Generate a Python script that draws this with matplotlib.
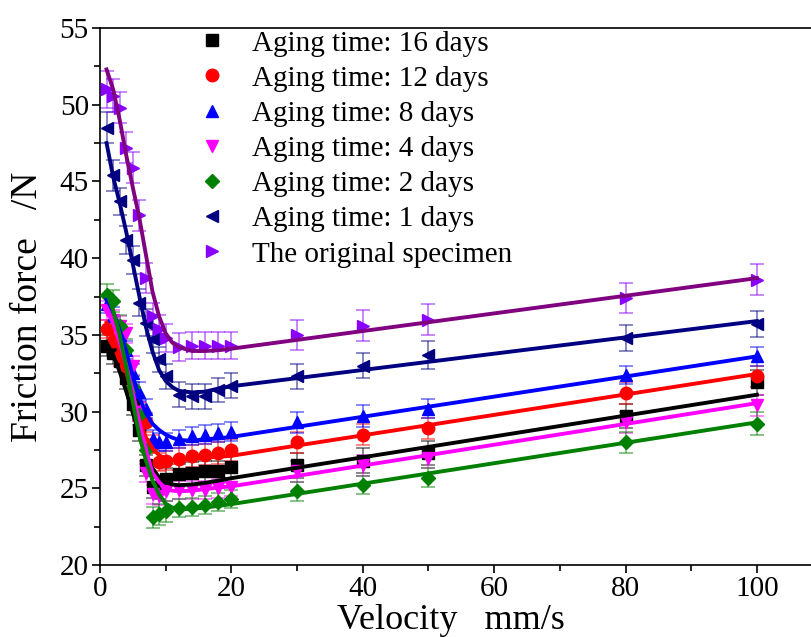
import matplotlib
matplotlib.use("Agg")
import matplotlib.pyplot as plt
from matplotlib.ticker import MultipleLocator

plt.rcParams['font.family'] = ['Liberation Serif', 'DejaVu Serif']

# measured velocities (mm/s)
velocity = [1, 2, 3, 4, 5, 6, 7, 8, 9, 10, 12, 14, 16, 18, 20, 30, 40, 50, 80, 100]

# measured friction force (N)
f16 = [34.3, 33.8, 33.3, 32.2, 30.5, 28.8, 26.5, 25.1, 25.0, 25.6, 25.9, 26.0, 26.1, 26.1, 26.4, 26.5, 26.8, 27.3, 29.7, 31.9]
f12 = [35.4, 34.6, 33.6, 33.0, 31.5, 30.0, 29.3, 27.9, 26.7, 26.8, 26.9, 27.1, 27.2, 27.3, 27.5, 28.0, 28.5, 28.9, 31.2, 32.3]
f8 = [37.0, 36.2, 35.0, 34.0, 32.5, 31.3, 30.2, 28.2, 28.0, 28.0, 28.2, 28.4, 28.5, 28.6, 28.7, 29.3, 29.7, 30.2, 32.4, 33.6]
f4 = [36.6, 36.0, 35.6, 35.1, 33.0, 30.0, 26.0, 24.6, 24.5, 24.8, 24.9, 24.9, 24.9, 25.0, 25.1, 26.1, 26.5, 27.0, 29.3, 30.4]
f2 = [37.6, 37.2, 35.6, 34.0, 31.6, 29.8, 27.5, 23.1, 23.3, 23.5, 23.7, 23.8, 23.9, 24.1, 24.3, 24.8, 25.2, 25.7, 28.0, 29.2]
f1 = [48.5, 45.4, 43.7, 41.2, 39.9, 37.1, 35.8, 34.7, 33.4, 32.3, 31.1, 31.0, 31.0, 31.4, 31.7, 32.3, 33.0, 33.7, 34.8, 35.7]
f0 = [51.0, 50.6, 49.8, 47.2, 45.9, 42.8, 38.7, 36.2, 35.4, 34.8, 34.2, 34.3, 34.3, 34.3, 34.3, 35.0, 35.6, 36.0, 37.4, 38.6]

# standard deviations (N)
e16 = [0.7, 0.7, 0.7, 0.7, 0.7, 0.7, 0.7, 0.7, 0.7, 0.7, 0.7, 0.7, 0.7, 0.7, 0.7, 0.8, 0.8, 0.8, 0.8, 0.8]
e12 = [0.6, 0.6, 0.6, 0.6, 0.6, 0.6, 0.6, 0.6, 0.6, 0.6, 0.7, 0.7, 0.7, 0.7, 0.7, 0.7, 0.7, 0.7, 0.7, 0.7]
e8 = [0.6, 0.6, 0.6, 0.6, 0.6, 0.6, 0.6, 0.6, 0.6, 0.6, 0.6, 0.6, 0.6, 0.6, 0.6, 0.7, 0.7, 0.6, 0.6, 0.6]
e4 = [0.6, 0.6, 0.6, 0.6, 0.6, 0.6, 0.6, 0.6, 0.6, 0.6, 0.6, 0.6, 0.6, 0.6, 0.6, 0.7, 0.7, 0.7, 0.7, 0.7]
e2 = [0.7, 0.7, 0.7, 0.7, 0.7, 0.7, 0.7, 0.7, 0.7, 0.7, 0.6, 0.6, 0.6, 0.6, 0.6, 0.6, 0.6, 0.6, 0.7, 0.75]
e1 = [1.0, 1.0, 0.9, 0.9, 0.9, 0.9, 0.9, 0.9, 0.8, 0.8, 0.8, 0.8, 0.8, 0.8, 0.8, 0.8, 0.8, 0.9, 0.87, 0.87]
e0 = [1.2, 1.1, 1.0, 1.0, 1.0, 1.0, 1.0, 0.9, 0.9, 0.9, 0.9, 0.9, 0.9, 0.9, 0.9, 1.0, 1.0, 1.0, 0.95, 1.0]

# fitted curves
fit_v = [1, 2, 3, 4, 5, 6, 7, 8, 9, 10, 11, 12, 14, 16, 18, 20, 100]
fit16 = [34.5, 33.7, 32.6, 31.3, 29.9, 28.5, 27.2, 26.3, 25.7, 25.4, 25.25, 25.2, 25.25, 25.35, 25.5, 25.66, 31.1]
fit12 = [35.8, 35.0, 33.9, 32.6, 30.9, 29.4, 28.3, 27.6, 27.15, 26.95, 26.85, 26.85, 26.9, 27.0, 27.05, 27.12, 32.45]
fit8 = [37.3, 36.5, 35.3, 33.9, 32.3, 30.9, 29.9, 29.2, 28.8, 28.5, 28.3, 28.15, 28.1, 28.2, 28.25, 28.35, 33.6]
fit4 = [36.8, 35.8, 34.5, 33.0, 31.2, 29.3, 27.5, 26.0, 25.4, 25.0, 24.85, 24.8, 24.85, 24.95, 25.05, 25.13, 30.55]
fit2 = [37.8, 36.6, 35.0, 32.9, 30.6, 28.4, 26.8, 25.5, 24.6, 24.0, 23.75, 23.65, 23.65, 23.75, 23.85, 23.97, 29.3]
fit1 = [47.5, 45.3, 43.6, 41.7, 39.6, 37.5, 35.5, 33.9, 32.7, 32.0, 31.6, 31.35, 31.25, 31.3, 31.5, 31.65, 35.9]
fit0 = [52.3, 51.0, 49.0, 46.7, 44.6, 42.6, 40.2, 37.8, 36.2, 35.1, 34.5, 34.2, 33.95, 33.95, 34.0, 34.1, 38.7]

labels = ['Aging time: 16 days', 'Aging time: 12 days', 'Aging time: 8 days',
          'Aging time: 4 days', 'Aging time: 2 days', 'Aging time: 1 days',
          'The original specimen']

series = [
    (f16, e16, fit16, 's', 'black', 'black'),
    (f12, e12, fit12, 'o', 'red', 'red'),
    (f8, e8, fit8, '^', 'blue', 'blue'),
    (f4, e4, fit4, 'v', 'magenta', 'magenta'),
    (f2, e2, fit2, 'D', 'green', 'green'),
    (f1, e1, fit1, '<', 'navy', 'navy'),
    (f0, e0, fit0, '>', '#8a00ff', 'purple'),
]

fig = plt.figure(figsize=(8.11, 6.37), dpi=100)
ax = fig.add_axes([0.1233, 0.113, 0.891, 0.843])

for (y, err, fit, mk, mc, lc), lab in zip(series, labels):
    ax.errorbar(velocity, y, yerr=err, fmt='none', ecolor=mc, alpha=0.55,
                elinewidth=1.2, capsize=5, capthick=1.2, zorder=2)
    ax.plot(velocity, y, ls='none', marker=mk, ms=9 if mk != 'D' else 7.5,
            color=mc, label=lab, zorder=3)
    ax.plot(fit_v, fit, color=lc, lw=2.8, zorder=4)

ax.set_xlim(0, 110)
ax.set_ylim(20, 55)
ax.xaxis.set_major_locator(MultipleLocator(20))
ax.xaxis.set_minor_locator(MultipleLocator(10))
ax.yaxis.set_major_locator(MultipleLocator(5))
ax.yaxis.set_minor_locator(MultipleLocator(2.5))
ax.tick_params(which='major', direction='out', length=6, width=1.2, labelsize=21, pad=2)
ax.tick_params(which='minor', direction='out', length=4, width=1.2)
for s in ax.spines.values():
    s.set_linewidth(1.2)

ax.set_xlabel('Velocity   mm/s', fontsize=26)
ax.xaxis.set_label_coords(0.486, -0.072)
ax.set_ylabel('Friction force   /N', fontsize=27)
ax.yaxis.set_label_coords(-0.076, 0.48)

ax.legend(loc='upper left', bbox_to_anchor=(0.095, 1.045), frameon=False,
          fontsize=21, handletextpad=0.75, labelspacing=0.3, handlelength=1.2)

fig.savefig('out.png', dpi=100)
